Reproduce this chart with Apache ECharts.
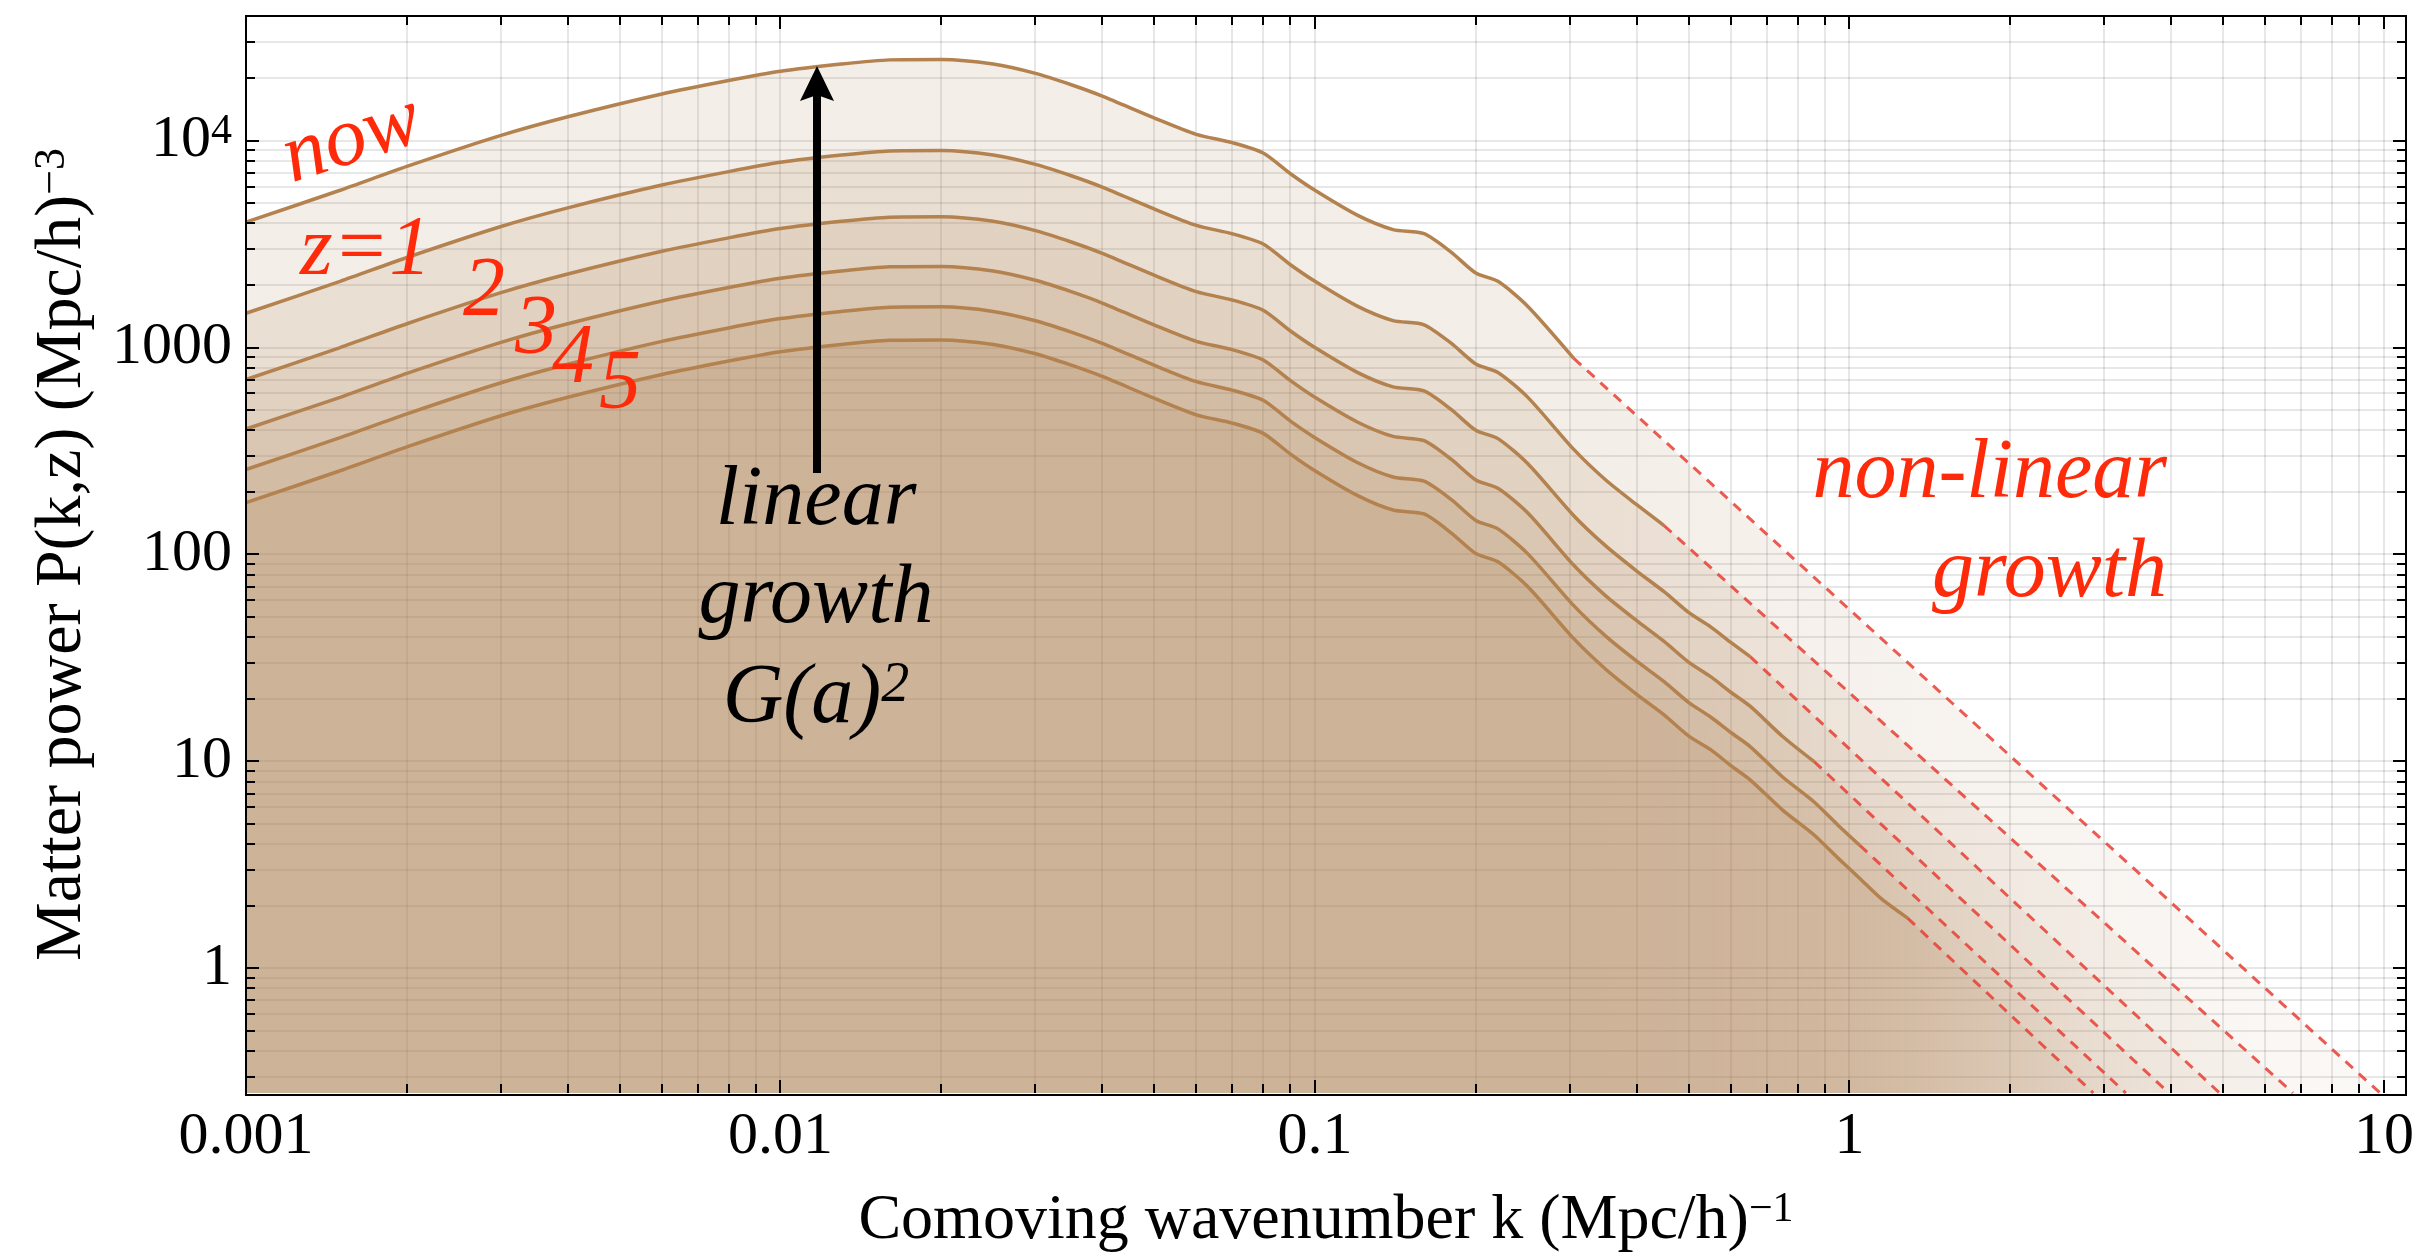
<!DOCTYPE html>
<html>
<head>
<meta charset="utf-8">
<script src="https://cdn.jsdelivr.net/npm/echarts@6/dist/echarts.min.js"></script>
<style>
  html, body { margin: 0; padding: 0; background: #ffffff; }
  #chart { width: 2420px; height: 1258px; }
</style>
</head>
<body>
<div id="chart"></div>
<script>
// Linear matter power spectrum P(k,z) at several redshifts.
// k in (Mpc/h)^-1, P in (Mpc/h)^3.
const curveNames = ['now', 'z=1', 'z=2', 'z=3', 'z=4', 'z=5'];

const kCore = [0.001, 0.0015, 0.002, 0.003, 0.004, 0.006, 0.008, 0.01, 0.013, 0.016, 0.02, 0.025, 0.03, 0.035, 0.04,
  0.05, 0.06, 0.07, 0.08, 0.09, 0.1, 0.12, 0.14, 0.16, 0.18, 0.2, 0.22, 0.25, 0.305];

const kNow = kCore;
const pNow = [4036, 5754, 7499, 10590, 13030, 16790, 19500, 21630, 23440, 24550, 24660, 23440, 21130, 18620, 16410,
  12880, 10720, 9772, 8710, 6918, 5754, 4365, 3715, 3548, 2884, 2291, 2089, 1585, 887];

const kZ1 = kCore.concat([0.35, 0.4, 0.45]);
const pZ1 = [1465, 2089, 2723, 3845, 4731, 6097, 7080, 7854, 8511, 8914, 8954, 8511, 7672, 6761, 5958,
  4677, 3892, 3548, 3163, 2512, 2089, 1585, 1349, 1288, 1047, 832, 758, 576, 322, 229, 174, 138];

const kZ2 = kCore.concat([0.35, 0.4, 0.45, 0.5, 0.55, 0.6, 0.652]);
const pZ2 = [701, 1000, 1303, 1841, 2265, 2918, 3389, 3759, 4074, 4267, 4286, 4074, 3672, 3236, 2852,
  2239, 1863, 1698, 1514, 1202, 1000, 759, 646, 617, 501, 398, 363, 275, 154, 110, 83.2, 66.1, 52.5, 44.7, 37.6, 32.1];

const kZ3 = kCore.concat([0.35, 0.4, 0.45, 0.5, 0.55, 0.6, 0.652, 0.75, 0.859]);
const pZ3 = [404, 575, 750, 1059, 1303, 1679, 1950, 2163, 2344, 2455, 2466, 2344, 2113, 1862, 1641,
  1288, 1072, 977, 871, 692, 575, 437, 372, 355, 288, 229, 209, 159, 88.7, 63.1, 47.9, 38, 30.2, 25.7, 21.6, 18.5, 13.2, 9.98];

const kZ4 = kCore.concat([0.35, 0.4, 0.45, 0.5, 0.55, 0.6, 0.652, 0.75, 0.859, 0.95, 1.046]);
const pZ4 = [257.5, 367, 478, 676, 831, 1071, 1244, 1380, 1495, 1566, 1573, 1495, 1348, 1188, 1047,
  822, 684, 623, 556, 441, 367, 278.5, 237, 226, 184, 146, 133, 101, 56.6, 40.3, 30.5, 24.3, 19.3, 16.4, 13.8, 11.8, 8.41, 6.37, 4.95, 3.93];

const kZ5 = kCore.concat([0.35, 0.4, 0.45, 0.5, 0.55, 0.6, 0.652, 0.75, 0.859, 0.95, 1.046, 1.15, 1.285]);
const pZ5 = [178, 254, 331, 468, 575, 741, 861, 955, 1035, 1084, 1089, 1035, 933, 822, 725,
  569, 473, 431.5, 385, 305.5, 254, 193, 164, 157, 127, 101, 92.2, 70, 39.2, 27.9, 21.1, 16.8, 13.3, 11.4, 9.55, 8.15, 5.82, 4.41, 3.43, 2.72, 2.16, 1.75];

// Non-linear continuation (dashed): start and end point of each curve.
const dashK = [[0.305, 9.84], [0.45, 6.76], [0.652, 4.93], [0.859, 3.96], [1.046, 3.29], [1.285, 2.86]];
const dashP = [[887, 0.25], [138, 0.25], [32.1, 0.25], [9.98, 0.25], [3.93, 0.25], [1.75, 0.25]];

// Axis ticks
const xMajorTicks = [0.001, 0.01, 0.1, 1, 10];
const xTickLabels = ['0.001', '0.01', '0.1', '1', '10'];
const yMajorTicks = [1, 10, 100, 1000, 10000];
const yTickLabels = ['1', '10', '100', '1000', '{b|10}{s|4}'];
const X_MIN = 0.001, X_MAX = 11, Y_MIN = 0.25, Y_MAX = 40000;

const kLists = [kNow, kZ1, kZ2, kZ3, kZ4, kZ5];
const pLists = [pNow, pZ1, pZ2, pZ3, pZ4, pZ5];

const SERIF = '"Liberation Serif", "Times New Roman", serif';
const GRID = { left: 246, top: 16, width: 2160, height: 1079 };
const LINE_BROWN = '#b3824f';
const FILL_RGB = '166,118,70';
const FILL_ALPHA = 0.18;
const FILL_ALPHA_END = 0.065;
const DASH_RED = 'rgba(232,62,52,0.85)';
const GRID_LINE = 'rgba(0,0,0,0.095)';
const TEXT_RED = '#ff2a0a';

// minor tick positions 2..9 within each decade
function minorValues(decades, lo, hi) {
  const out = [];
  decades.forEach(d => { for (let m = 2; m <= 9; m++) { const v = +(m * d).toPrecision(6); if (v >= lo && v <= hi) out.push(v); } });
  return out;
}
const xMinorTicks = minorValues([0.001, 0.01, 0.1, 1, 10], X_MIN, X_MAX);
const yMinorTicks = minorValues([0.1, 1, 10, 100, 1000, 10000], Y_MIN, Y_MAX);

function pairs(ks, ps) { return ks.map((k, i) => [k, ps[i]]); }

const series = [];

// Background grid lines (under the fills)
series.push({
  type: 'custom', coordinateSystem: 'cartesian2d', silent: true, z: 1,
  data: xMajorTicks.concat(xMinorTicks).map(v => [v, 1]),
  renderItem: (params, api) => {
    const cs = params.coordSys;
    const x = Math.round(api.coord([api.value(0), 1])[0]);
    return { type: 'line', shape: { x1: x, y1: cs.y, x2: x, y2: cs.y + cs.height }, style: { stroke: GRID_LINE, lineWidth: 2 } };
  }
});
series.push({
  type: 'custom', coordinateSystem: 'cartesian2d', silent: true, z: 1,
  data: yMajorTicks.concat(yMinorTicks).map(v => [1, v]),
  renderItem: (params, api) => {
    const cs = params.coordSys;
    const y = Math.round(api.coord([1, api.value(1)])[1]);
    return { type: 'line', shape: { x1: cs.x, y1: y, x2: cs.x + cs.width, y2: y }, style: { stroke: GRID_LINE, lineWidth: 2 } };
  }
});

// Filled areas, solid linear curves and dashed non-linear extensions
const logMin = Math.log10(X_MIN);
kLists.forEach((ks, i) => {
  const solid = pairs(ks, pLists[i]);
  const dashed = pairs(dashK[i], dashP[i]);
  const fadeStart = (Math.log10(dashK[i][0]) - logMin) / (Math.log10(dashK[i][1]) - logMin);
  series.push({
    name: curveNames[i] + ' fill', type: 'line', data: solid.concat([dashed[1]]),
    showSymbol: false, silent: true, z: 2, smooth: 0.25,
    lineStyle: { width: 0, opacity: 0 },
    areaStyle: {
      origin: 'start',
      color: new echarts.graphic.LinearGradient(0, 0, 1, 0, [
        { offset: 0, color: `rgba(${FILL_RGB},${FILL_ALPHA})` },
        { offset: fadeStart, color: `rgba(${FILL_RGB},${FILL_ALPHA})` },
        { offset: 1, color: `rgba(${FILL_RGB},${FILL_ALPHA_END})` }
      ])
    }
  });
  series.push({
    name: curveNames[i], type: 'line', data: solid, showSymbol: false, silent: true, z: 4, smooth: 0.25,
    lineStyle: { color: LINE_BROWN, width: 3.5 }
  });
  series.push({
    name: curveNames[i] + ' non-linear', type: 'line', data: dashed, showSymbol: false, silent: true, z: 4,
    lineStyle: { color: DASH_RED, width: 3, type: [10, 8] }
  });
});

// Tick marks on all four sides
const xTickData = xMajorTicks.map(v => [v, 1, 1]).concat(xMinorTicks.map(v => [v, 1, 0]));
const yTickData = yMajorTicks.map(v => [1, v, 1]).concat(yMinorTicks.map(v => [1, v, 0]));
series.push({
  type: 'custom', coordinateSystem: 'cartesian2d', silent: true, z: 20, clip: false,
  data: xTickData,
  renderItem: (params, api) => {
    const cs = params.coordSys;
    const x = Math.round(api.coord([api.value(0), 1])[0]);
    const len = api.value(2) ? 13 : 9;
    const st = { stroke: '#000', lineWidth: 2 };
    return { type: 'group', children: [
      { type: 'line', shape: { x1: x, y1: cs.y + cs.height, x2: x, y2: cs.y + cs.height - len }, style: st },
      { type: 'line', shape: { x1: x, y1: cs.y, x2: x, y2: cs.y + len }, style: st }
    ] };
  }
});
series.push({
  type: 'custom', coordinateSystem: 'cartesian2d', silent: true, z: 20, clip: false,
  data: yTickData,
  renderItem: (params, api) => {
    const cs = params.coordSys;
    const y = Math.round(api.coord([1, api.value(1)])[1]);
    const len = api.value(2) ? 13 : 9;
    const st = { stroke: '#000', lineWidth: 2 };
    return { type: 'group', children: [
      { type: 'line', shape: { x1: cs.x, y1: y, x2: cs.x + len, y2: y }, style: st },
      { type: 'line', shape: { x1: cs.x + cs.width, y1: y, x2: cs.x + cs.width - len, y2: y }, style: st }
    ] };
  }
});

function labelFor(majors, labels) {
  return v => {
    const e = Math.log10(v);
    if (Math.abs(e - Math.round(e)) > 1e-6) return '';
    const idx = majors.findIndex(m => Math.abs(Math.log10(m) - e) < 1e-6);
    return idx >= 0 ? labels[idx] : '';
  };
}

const chart = echarts.init(document.getElementById('chart'), null, { renderer: 'canvas' });

const annFont = size => ({ fontFamily: SERIF, fontStyle: 'italic', fontSize: size });
function ann(text, x, y, color, align, rotation) {
  return {
    type: 'text', z: 100, silent: true, x: x, y: y, rotation: rotation || 0,
    style: Object.assign({ text, x: 0, y: 0, fill: color, textAlign: align, align: align,
      textVerticalAlign: 'middle', verticalAlign: 'middle' }, annFont(84))
  };
}

const G = GRID;
chart.setOption({
  animation: false,
  backgroundColor: '#ffffff',
  grid: { left: G.left, top: G.top, width: G.width, height: G.height, show: true, backgroundColor: '#ffffff', borderWidth: 0 },
  xAxis: {
    type: 'log', logBase: 10, min: X_MIN, max: X_MAX,
    axisLine: { show: false }, axisTick: { show: false }, splitLine: { show: false }, minorSplitLine: { show: false },
    axisLabel: { formatter: labelFor(xMajorTicks, xTickLabels), fontFamily: SERIF, fontSize: 60, color: '#000', margin: 14 },
    name: 'Comoving wavenumber k (Mpc/h){s|\u22121}',
    nameLocation: 'middle', nameGap: 96,
    nameTextStyle: {
      fontFamily: SERIF, fontSize: 64, color: '#000',
      rich: { s: { fontFamily: SERIF, fontSize: 42, color: '#000', verticalAlign: 'top' } }
    }
  },
  yAxis: {
    type: 'log', logBase: 10, min: Y_MIN, max: Y_MAX,
    axisLine: { show: false }, axisTick: { show: false }, splitLine: { show: false }, minorSplitLine: { show: false },
    axisLabel: {
      formatter: labelFor(yMajorTicks, yTickLabels), fontFamily: SERIF, fontSize: 60, color: '#000', margin: 14,
      rich: {
        b: { fontFamily: SERIF, fontSize: 60, color: '#000' },
        s: { fontFamily: SERIF, fontSize: 42, color: '#000', verticalAlign: 'top' }
      }
    },
    name: 'Matter power P(k,z) (Mpc/h){s|\u22123}',
    nameLocation: 'middle', nameGap: 150,
    nameTextStyle: {
      fontFamily: SERIF, fontSize: 66, color: '#000',
      rich: { s: { fontFamily: SERIF, fontSize: 44, color: '#000', verticalAlign: 'top' } }
    }
  },
  series: series,
  graphic: [
    // plot frame
    { type: 'rect', z: 90, silent: true, shape: { x: G.left, y: G.top, width: G.width, height: G.height },
      style: { fill: null, stroke: '#000', lineWidth: 2 } },
    // growth arrow
    { type: 'line', z: 95, silent: true, shape: { x1: 817, y1: 473, x2: 817, y2: 92 }, style: { stroke: '#000', lineWidth: 8 } },
    { type: 'polygon', z: 95, silent: true, shape: { points: [[817, 66], [800, 101], [817, 95], [834, 101]] }, style: { fill: '#000' } },
    // curve labels
    ann('now', 352, 140, TEXT_RED, 'center', 0.31),
    ann('z=1', 300, 252, TEXT_RED, 'left'),
    ann('2', 463, 293, TEXT_RED, 'left'),
    ann('3', 515, 331, TEXT_RED, 'left'),
    ann('4', 552, 360, TEXT_RED, 'left'),
    ann('5', 599, 386, TEXT_RED, 'left'),
    ann('linear', 816, 502, '#000', 'center'),
    ann('growth', 816, 600, '#000', 'center'),
    { type: 'text', z: 100, silent: true, x: 816, y: 700,
      style: { text: '{m|G(a)}{s|2}', x: 0, y: 0, textAlign: 'center', align: 'center', textVerticalAlign: 'middle', verticalAlign: 'middle',
        rich: { m: { fontFamily: SERIF, fontStyle: 'italic', fontSize: 84, fill: '#000' }, s: { fontFamily: SERIF, fontStyle: 'italic', fontSize: 56, fill: '#000', verticalAlign: 'top' } } } },
    ann('non-linear', 2167, 475, TEXT_RED, 'right'),
    ann('growth', 2167, 574, TEXT_RED, 'right')
  ]
});
</script>
</body>
</html>
